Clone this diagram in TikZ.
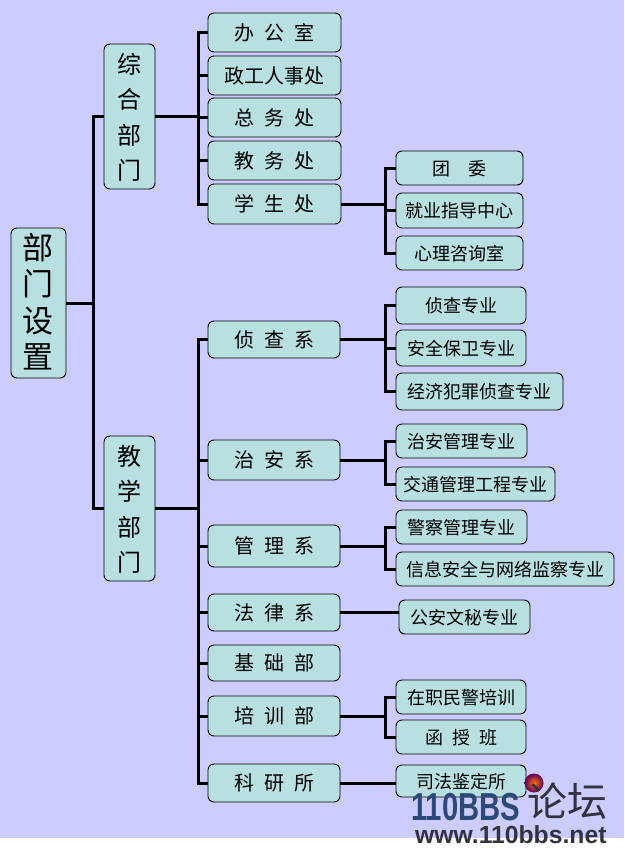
\documentclass[tikz,border=0pt]{standalone}
\usepackage{fontspec}
\setmainfont{Noto Sans CJK SC}
\newfontfamily\wmfont{Liberation Sans}
\newfontfamily\cjkwm{Noto Sans CJK SC}
\definecolor{bgl}{HTML}{CCCCFF}
\definecolor{boxc}{HTML}{B9E0E0}
\definecolor{wmblue}{HTML}{2B4A78}
\definecolor{wmdark}{HTML}{333340}
\newcommand{\bx}[7][leaf]{% style, name, x1,y1,x2,y2, text
  \node[#1,minimum width={(#5-#3)*1pt},minimum height={(#6-#4)*1pt}] (#2) at ({(#3+#5)/2},{(#4+#6)/2}) {\raisebox{-3pt}[\height][\depth]{\begin{tabular}{@{}c@{}}#7\end{tabular}}};}
\newcommand{\gp}{\hspace{10pt}}
\newcommand{\lgp}{\hspace{9pt}}
\tikzset{
  basebox/.style={draw=black,line width=0.9pt,fill=boxc,rounded corners=6pt,inner sep=0pt,text=black},
  rootbox/.style={basebox,font=\fontsize{31}{36}\selectfont},
  groupbox/.style={basebox,font=\fontsize{24}{35.5}\selectfont},
  midbox/.style={basebox,font=\fontsize{20}{24}\selectfont},
  leaf/.style={basebox,font=\fontsize{18}{22}\selectfont},
  conn/.style={draw=black,line width=3pt,line cap=butt}
}
\begin{document}
\begin{tikzpicture}[x=1pt,y=-1pt]
\useasboundingbox (0,0) rectangle (624,854);
\fill[white] (0,0) rectangle (624,854);
\fill[bgl] (0,0) rectangle (624,838);
% coordinates of the connector junctions
\coordinate (trunk) at (93,303);
\coordinate (busA) at (198,116.5);
\coordinate (busB) at (198,508.5);
\coordinate (busXs) at (385,204);
\coordinate (busZc) at (385,339.5);
\coordinate (busZa) at (385,460);
\coordinate (busGl) at (385,546);
\coordinate (busPx) at (385,716);
% boxes
\bx[rootbox]{root}{11}{228}{66}{378}{部\\门\\设\\置}
\bx[groupbox]{zonghe}{104}{44}{155}{189}{综\\合\\部\\门}
\bx[groupbox]{jiaoxue}{104}{436}{155}{581}{教\\学\\部\\门}
\bx[midbox]{bangong}{208}{13}{341}{52}{办\gp 公\gp 室}
\bx[midbox]{zhenggong}{208}{56}{341}{95}{政工人事处}
\bx[midbox]{zongwu}{208}{98}{341}{137}{总\gp 务\gp 处}
\bx[midbox]{jiaowu}{208}{141}{341}{180}{教\gp 务\gp 处}
\bx[midbox]{xuesheng}{208}{184}{341}{224}{学\gp 生\gp 处}
\bx{tuanwei}{396}{151}{523}{185}{团\hspace{18pt}委}
\bx{jiuye}{396}{193}{523}{228}{就业指导中心}
\bx{xinli}{396}{236}{523}{270}{心理咨询室}
\bx[midbox]{zhenchaxi}{208}{321}{340}{358}{侦\gp 查\gp 系}
\bx[midbox]{zhianxi}{208}{440}{340}{480}{治\gp 安\gp 系}
\bx[midbox]{guanlixi}{208}{525}{340}{567}{管\gp 理\gp 系}
\bx[midbox]{falvxi}{208}{594}{340}{631}{法\gp 律\gp 系}
\bx[midbox]{jichubu}{208}{645}{340}{681}{基\gp 础\gp 部}
\bx[midbox]{peixunbu}{208}{696}{340}{736}{培\gp 训\gp 部}
\bx[midbox]{keyansuo}{208}{764}{340}{802}{科\gp 研\gp 所}
\bx{zc}{396}{287}{526}{324}{侦查专业}
\bx{aq}{396}{330}{526}{366}{安全保卫专业}
\bx{jj}{396}{373}{563}{410}{经济犯罪侦查专业}
\bx{za}{396}{424}{527}{458}{治安管理专业}
\bx{jt}{396}{467}{555}{501}{交通管理工程专业}
\bx{jc}{396}{510}{527}{544}{警察管理专业}
\bx{xx}{396}{552}{614}{586}{信息安全与网络监察专业}
\bx{ga}{399}{600}{530}{634}{公安文秘专业}
\bx{zz}{396}{680}{526}{714}{在职民警培训}
\bx{hs}{396}{720}{526}{754}{函\lgp 授\lgp 班}
\bx{sf}{396}{765}{526}{797}{司法鉴定所}
% connectors
\begin{scope}[conn]
\draw (root) -- (trunk);
\draw (trunk) |- (zonghe);
\draw (trunk) |- (jiaoxue);
\draw (zonghe.east |- busA) -- (busA);
\draw (jiaoxue.east |- busB) -- (busB);
\foreach \n in {bangong,zhenggong,zongwu,jiaowu,xuesheng} \draw (busA) |- (\n.west);
\foreach \n in {zhenchaxi,zhianxi,guanlixi,falvxi,jichubu,peixunbu,keyansuo} \draw (busB) |- (\n.west);
\draw (xuesheng.east) -- (busXs);
\foreach \n in {tuanwei,jiuye,xinli} \draw (busXs) |- (\n.west);
\draw (zhenchaxi.east) -- (busZc);
\foreach \n in {zc,aq,jj} \draw (busZc) |- (\n.west);
\draw (zhianxi.east) -- (busZa);
\foreach \n in {za,jt} \draw (busZa) |- (\n.west);
\draw (guanlixi.east) -- (busGl);
\foreach \n in {jc,xx} \draw (busGl) |- (\n.west);
\draw (falvxi.east) -- (falvxi.east -| ga.west);
\draw (peixunbu.east) -- (busPx);
\foreach \n in {zz,hs} \draw (busPx) |- (\n.west);
\draw (keyansuo.east) -- (keyansuo.east -| sf.west);
\end{scope}
% watermark
\shade[inner color=orange!90!red,outer color=violet!75!black] (534,783) circle (9.5);
\node[font=\wmfont\bfseries\fontsize{39}{39}\selectfont,text=wmblue,inner sep=0pt,anchor=base west,xscale=0.75] (wmA) at (411,820) {110BBS};
\node[font=\cjkwm\fontsize{40}{40}\selectfont,text=wmdark,inner sep=0pt,anchor=west] (wmB) at (527,801) {论坛};
\node[font=\wmfont\bfseries\fontsize{24.7}{26}\selectfont,text=wmdark,inner sep=0pt,anchor=base west] (wmC) at (415,843) {www.110bbs.net};
\end{tikzpicture}
\end{document}
